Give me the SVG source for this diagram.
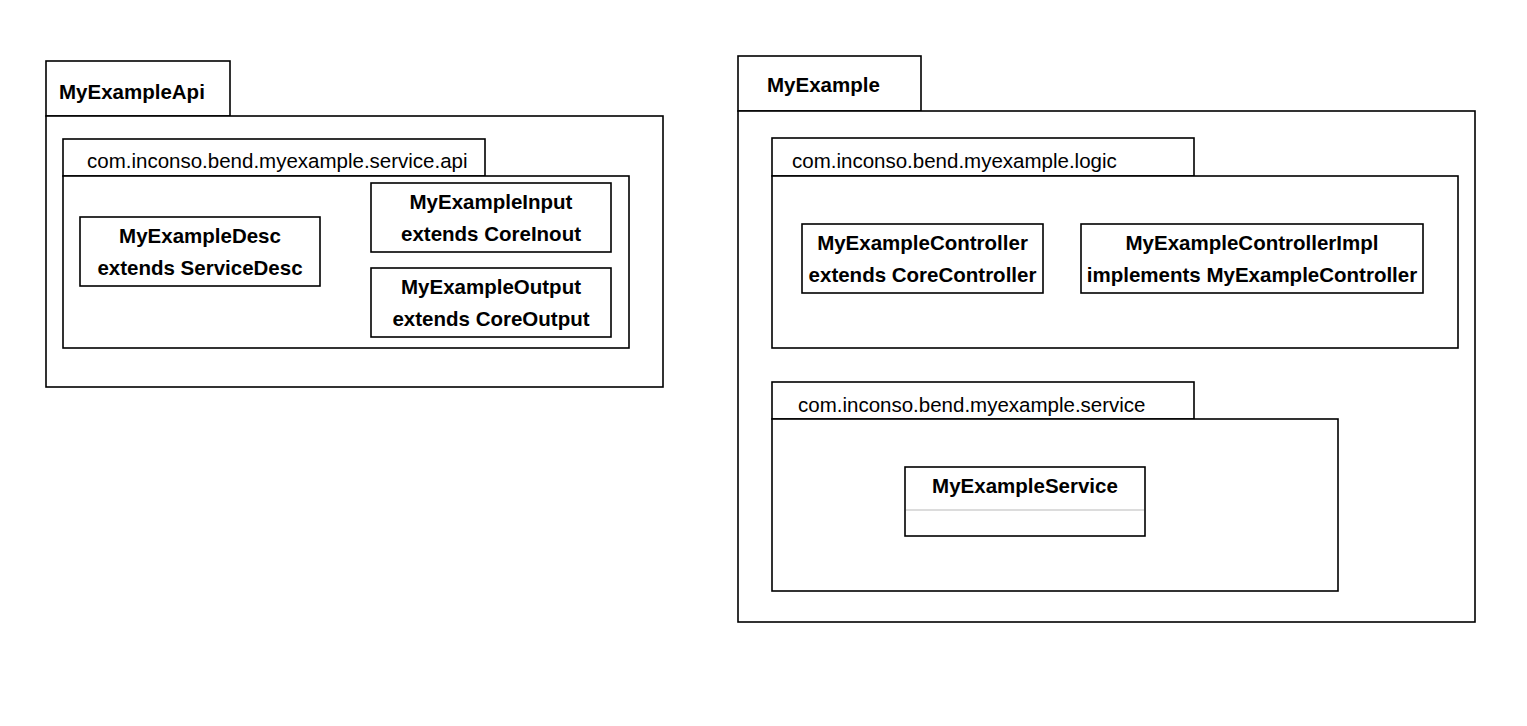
<svg xmlns="http://www.w3.org/2000/svg" width="1527" height="726" viewBox="0 0 1527 726">
<style>
rect{fill:#fff;stroke:#000;stroke-width:1.6}
text{font-family:"Liberation Sans",Arial,sans-serif;font-size:20.5px;fill:#000}
.b{font-weight:bold;text-anchor:middle}
.p{font-weight:normal}
.pb{font-weight:bold}
</style>
<rect x="0" y="0" width="1527" height="726" style="stroke:none"/>
<g id="pkg-MyExampleApi">
<rect x="46" y="61" width="184" height="55"/>
<rect x="46" y="116" width="617" height="271"/>
<text class="pb" x="59" y="99">MyExampleApi</text>
</g>
<g id="pkg-service-api">
<rect x="63" y="139" width="422" height="37"/>
<rect x="63" y="176" width="566" height="172"/>
<text class="p" x="87" y="168">com.inconso.bend.myexample.service.api</text>
</g>
<g id="MyExampleDesc">
<rect x="80" y="217" width="240" height="69"/>
<text class="b" x="200" y="243">MyExampleDesc</text>
<text class="b" x="200" y="275">extends ServiceDesc</text>
</g>
<g id="MyExampleInput">
<rect x="371" y="183" width="240" height="69"/>
<text class="b" x="491" y="209">MyExampleInput</text>
<text class="b" x="491" y="241">extends CoreInout</text>
</g>
<g id="MyExampleOutput">
<rect x="371" y="268" width="240" height="69"/>
<text class="b" x="491" y="294">MyExampleOutput</text>
<text class="b" x="491" y="326">extends CoreOutput</text>
</g>
<g id="pkg-MyExample">
<rect x="738" y="56" width="183" height="55"/>
<rect x="738" y="111" width="737" height="511"/>
<text class="pb" x="767" y="92">MyExample</text>
</g>
<g id="pkg-logic">
<rect x="772" y="138" width="422" height="38"/>
<rect x="772" y="176" width="686" height="172"/>
<text class="p" x="792" y="168">com.inconso.bend.myexample.logic</text>
</g>
<g id="MyExampleController">
<rect x="802" y="224" width="241" height="69"/>
<text class="b" x="922.5" y="250">MyExampleController</text>
<text class="b" x="922.5" y="282">extends CoreController</text>
</g>
<g id="MyExampleControllerImpl">
<rect x="1081" y="224" width="342" height="69"/>
<text class="b" x="1252" y="250">MyExampleControllerImpl</text>
<text class="b" x="1252" y="282">implements MyExampleController</text>
</g>
<g id="pkg-service">
<rect x="772" y="382" width="422" height="37"/>
<rect x="772" y="419" width="566" height="172"/>
<text class="p" x="798" y="412">com.inconso.bend.myexample.service</text>
</g>
<g id="MyExampleService">
<rect x="905" y="467" width="240" height="69"/>
<line x1="906" y1="510" x2="1144" y2="510" stroke="#d0d0d0" stroke-width="1.6"/>
<text class="b" x="1025" y="493">MyExampleService</text>
</g>
<g id="connectors"></g>
</svg>
